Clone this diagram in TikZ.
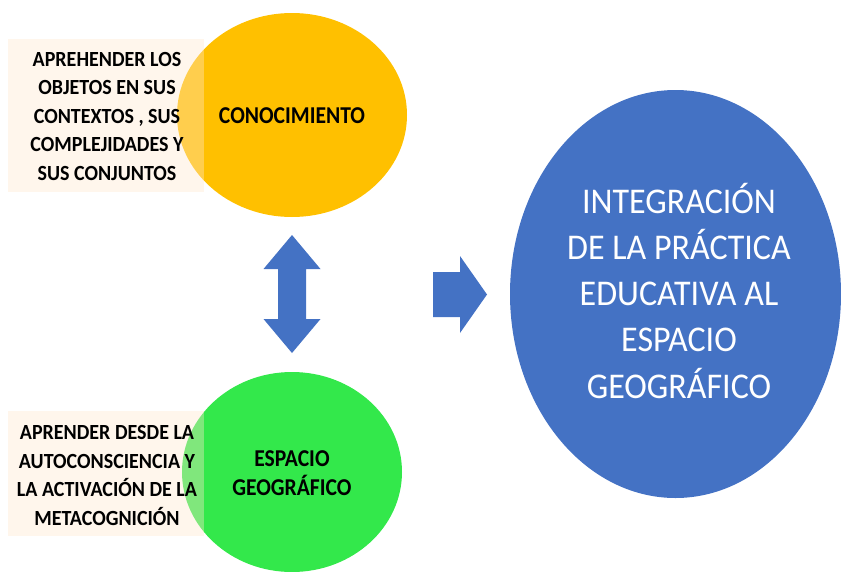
\documentclass[tikz,border=0pt]{standalone}
\usepackage{fontspec}
\usepackage{graphicx}
\setmainfont{Carlito}
\definecolor{cyellow}{RGB}{255,192,0}
\definecolor{cgreen}{RGB}{51,232,75}
\definecolor{cblue}{RGB}{68,114,196}
\definecolor{cbeige}{RGB}{255,231,205}
\newcommand\vstretch[2]{\scalebox{1}[#1]{\begin{tabular}{@{}c@{}}#2\end{tabular}}}
\tikzset{
  boxtext/.style={inner sep=0pt,text=black,font=\bfseries\fontsize{20}{26.4}\selectfont},
  circtext/.style={inner sep=0pt,text=black,font=\bfseries\fontsize{21.6}{26.4}\selectfont},
  bigtext/.style={inner sep=0pt,text=white,font=\fontsize{34}{43.4}\selectfont},
  panel/.style={fill=cbeige,fill opacity=0.38,draw=none},
  blockarrow/.style={fill=cblue,draw=none}
}
\begin{document}
\begin{tikzpicture}[x=1pt,y=-1pt]
\useasboundingbox (0,0) rectangle (841,571);
% circles
\fill[cyellow] (292,115) ellipse [x radius=115, y radius=102];
\fill[cgreen] (292,472) ellipse [x radius=110, y radius=100];
\fill[cblue] (675.5,294) ellipse [x radius=165.5, y radius=204];
% panels
\fill[panel] (8,39) rectangle (204,192);
\fill[panel] (8,411) rectangle (204,536);
% texts
\node[boxtext] (t1) at (107,117.5) {\vstretch{1.08}{APREHENDER LOS\\OBJETOS EN SUS\\CONTEXTOS , SUS\\COMPLEJIDADES Y\\SUS CONJUNTOS}};
\node[boxtext] (t2) at (107,477) {\vstretch{1.08}{APRENDER DESDE LA\\AUTOCONSCIENCIA Y\\LA ACTIVACIÓN DE LA\\METACOGNICIÓN}};
\node[circtext] (c1) at (292,117.5) {\vstretch{1.12}{CONOCIMIENTO}};
\node[circtext] (c2) at (292,475) {\vstretch{1.12}{ESPACIO\\GEOGRÁFICO}};
\node[bigtext] (c3) at (679,296.5) {\vstretch{1.065}{INTEGRACIÓN\\DE LA PRÁCTICA\\EDUCATIVA AL\\ESPACIO\\GEOGRÁFICO}};
% double arrow
\fill[blockarrow] (292,235) -- (320.5,269) -- (306,269) -- (306,319) -- (320.5,319) -- (292,353)
  -- (263.5,319) -- (278,319) -- (278,269) -- (263.5,269) -- cycle;
% right arrow
\fill[blockarrow] (433,272) -- (460,272) -- (460,256) -- (487,294.5) -- (460,333) -- (460,317) -- (433,317) -- cycle;
\end{tikzpicture}
\end{document}
